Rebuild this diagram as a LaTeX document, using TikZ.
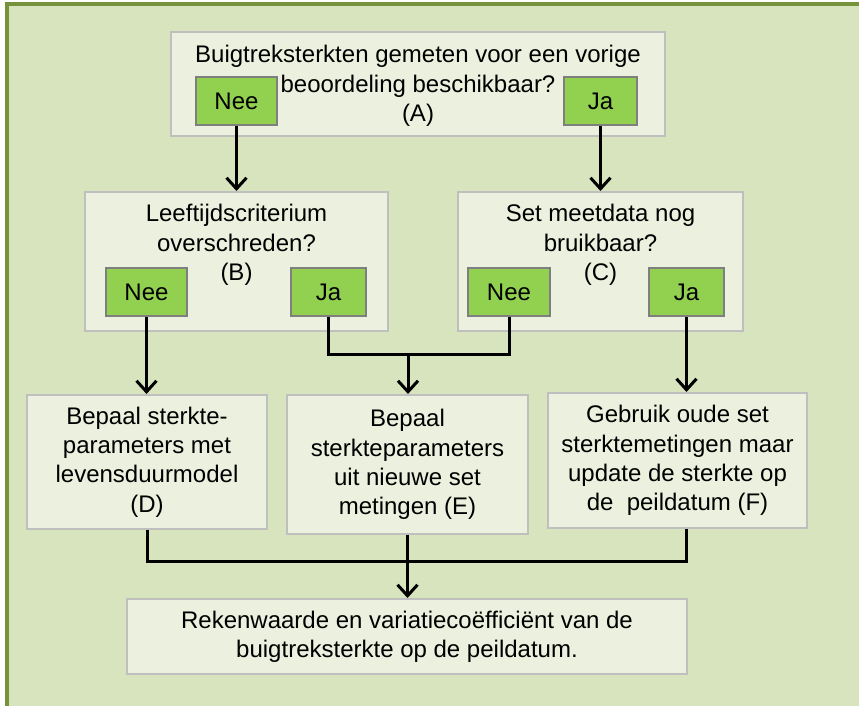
\documentclass[tikz,border=0pt]{standalone}
\usepackage{fontspec}
\setmainfont{Liberation Sans}
\usetikzlibrary{arrows.meta}
\definecolor{framegreen}{HTML}{76933C}
\definecolor{panelgreen}{HTML}{D7E4BD}
\definecolor{boxfill}{HTML}{EBF1DE}
\definecolor{boxline}{HTML}{BFBFBF}
\definecolor{btnfill}{HTML}{92D050}
\definecolor{btnline}{HTML}{7F7F7F}
\begin{document}
\begin{tikzpicture}[x=0.5pt, y=-0.5pt,
  every node/.style={font=\fontsize{12}{14.7}\selectfont, text=black},
  box/.style={draw=boxline, fill=boxfill, line width=1pt, rectangle, inner sep=0pt},
  qtext/.style={align=center, inner sep=0pt},
  btn/.style={draw=btnline, fill=btnfill, line width=1pt, rectangle, inner sep=0pt, minimum height=24pt},
  flow/.style={line width=1.5pt, draw=black},
  arr/.style={flow, -{Straight Barb[length=5.5pt, width=10pt]}}
]
\useasboundingbox (0,0) rectangle (859,706);
\clip (0,0) rectangle (859,706);
% outer panel
\draw[line width=2pt, draw=framegreen, fill=panelgreen] (7,4) rectangle (890,740);

% question A
\node[box, minimum width=247pt, minimum height=52pt] (A) at (418,84) {};
\node[qtext] (Atext) at (418,86) {Buigtreksterkten gemeten voor een vorige\\beoordeling beschikbaar?\\(A)};
\node[btn, minimum width=40.5pt] (neeA) at (236.5,101) {Nee};
\node[btn, minimum width=36.5pt] (jaA) at (600.5,101) {Ja};

% question B
\node[box, minimum width=151.5pt, minimum height=69.5pt] (B) at (236.5,261.5) {};
\node[qtext] (Btext) at (236.5,245) {Leeftijdscriterium\\overschreden?\\(B)};
\node[btn, minimum width=40.5pt] (neeB) at (146.5,292) {Nee};
\node[btn, minimum width=37.5pt] (jaB) at (328.5,292) {Ja};

% question C
\node[box, minimum width=142.5pt, minimum height=69.5pt] (C) at (600.5,261.5) {};
\node[qtext] (Ctext) at (600.5,245) {Set meetdata nog\\bruikbaar?\\(C)};
\node[btn, minimum width=41pt] (neeC) at (509,292) {Nee};
\node[btn, minimum width=37.5pt] (jaC) at (686.5,292) {Ja};

% outcomes
\node[box, align=center, minimum width=120pt, minimum height=67pt] (D) at (147,462)
  {Bepaal sterkte-\\parameters met\\levensduurmodel\\(D)};
\node[box, align=center, minimum width=120.5pt, minimum height=69.5pt] (E) at (407.5,464.5)
  {Bepaal\\sterkteparameters\\uit nieuwe set\\metingen (E)};
\node[box, align=center, minimum width=129.5pt, minimum height=67.5pt] (F) at (677.5,460.5)
  {Gebruik oude set\\sterktemetingen maar\\update de sterkte op\\de\ \ peildatum (F)};
\node[box, align=center, minimum width=280pt, minimum height=37.5pt] (G) at (407,636.5)
  {Rekenwaarde en variatiecoëfficiënt van de\\buigtreksterkte op de peildatum.};

% junction points
\coordinate (j1) at (408,355);
\coordinate (j2) at (408,562);

% connectors
\draw[arr] (neeA.south) -- (neeA.south |- B.north);
\draw[arr] (jaA.south) -- (jaA.south |- C.north);
\draw[arr] (neeB.south) -- (neeB.south |- D.north);
\draw[flow] (jaB.south) |- (j1) -| (neeC.south);
\draw[arr] (j1) -- (j1 |- E.north);
\draw[arr] (jaC.south) -- (jaC.south |- F.north);
\draw[flow] (D.south) |- (j2);
\draw[flow] (jaC.south |- F.south) |- (j2);
\draw[arr] (E.south) -- (E.south |- G.north);
\end{tikzpicture}
\end{document}
